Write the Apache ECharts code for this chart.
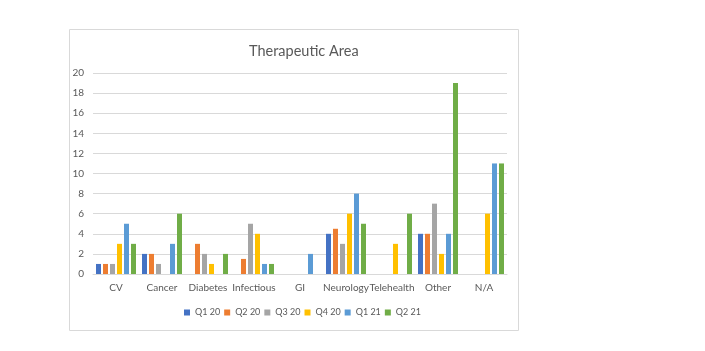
<!DOCTYPE html>
<html><head><meta charset="utf-8">
<script src="https://cdn.jsdelivr.net/npm/echarts@6/dist/echarts.min.js"></script>
<style>html,body{margin:0;padding:0;background:#fff;}#c{width:705px;height:351px;}</style>
</head><body><div id="c"></div>
<script>
const categories = ['CV','Cancer','Diabetes','Infectious','GI','Neurology','Telehealth','Other','N/A'];
const seriesNames = ['Q1 20','Q2 20','Q3 20','Q4 20','Q1 21','Q2 21'];
const q1_20 = [1,2,0,0,0,4,0,4,0];
const q2_20 = [1,2,3,1.5,0,4.5,0,4,0];
const q3_20 = [1,1,2,5,0,3,0,7,0];
const q4_20 = [3,0,1,4,0,6,3,2,6];
const q1_21 = [5,3,0,1,2,8,0,4,11];
const q2_21 = [3,6,2,1,0,5,6,19,11];
const yTicks = {min:0,max:20,interval:2};
const colors = ['#4472C4','#ED7D31','#A5A5A5','#FFC000','#5B9BD5','#70AD47'];
const values = [q1_20,q2_20,q3_20,q4_20,q1_21,q2_21];
const font = 'Lato, "Open Sans", sans-serif';
const chart = echarts.init(document.getElementById('c'));
chart.setOption({
  animation:false,
  color:colors,
  textStyle:{fontFamily:font},
  graphic:[{type:'rect',shape:{x:69.5,y:29.5,width:449,height:301},style:{fill:'none',stroke:'#d9d9d9',lineWidth:1}}],
  title:{text:'Therapeutic Area',left:244,top:39,textStyle:{fontSize:14.5,fontWeight:'normal',color:'#595959',fontFamily:font}},
  legend:{data:seriesNames,left:179,top:303,icon:'rect',itemWidth:6,itemHeight:6,itemGap:4,textStyle:{fontSize:9,color:'#595959',fontFamily:font}},
  grid:{left:93,right:198,top:73,bottom:77,containLabel:false},
  xAxis:{type:'category',data:categories,axisLine:{lineStyle:{color:'#d9d9d9'}},axisTick:{show:false},
    axisLabel:{fontSize:10,color:'#595959',margin:9,interval:0,fontFamily:font}},
  yAxis:{type:'value',min:yTicks.min,max:yTicks.max,interval:yTicks.interval,
    axisLine:{show:false},axisTick:{show:false},
    splitLine:{lineStyle:{color:'#d9d9d9'}},
    axisLabel:{fontSize:10,color:'#595959',margin:9,fontFamily:font}},
  series:seriesNames.map((n,i)=>({name:n,type:'bar',data:values[i],barWidth:5,barGap:'40%'}))
});
</script></body></html>
